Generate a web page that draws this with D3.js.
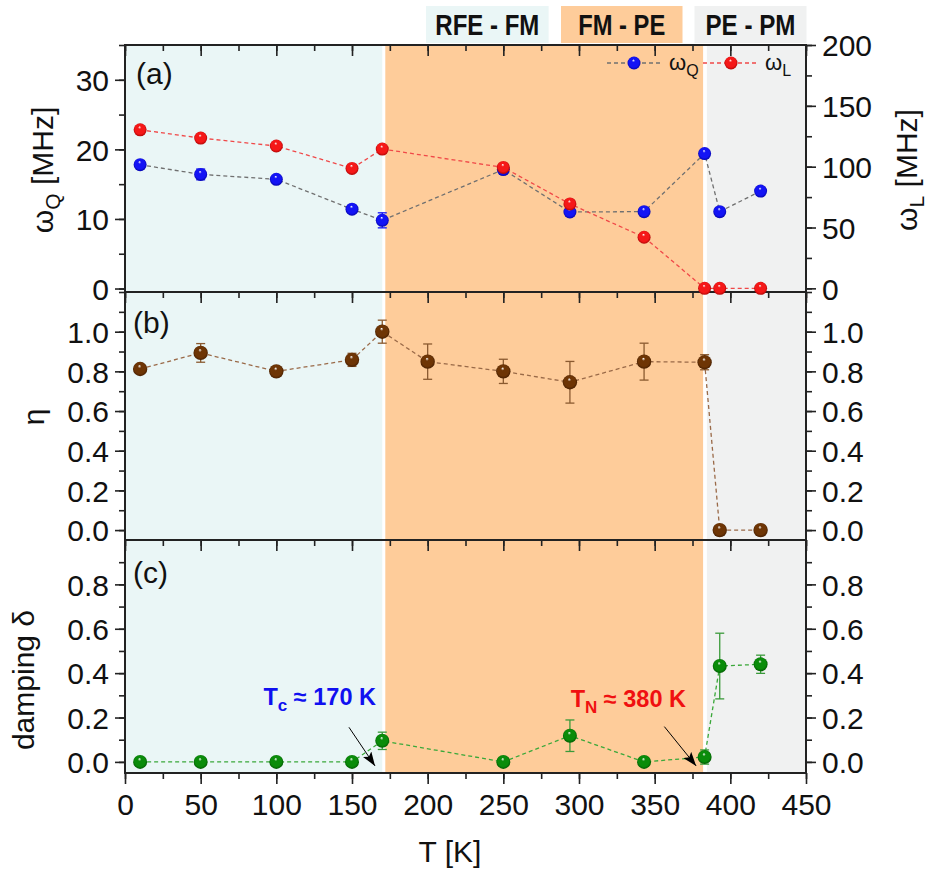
<!DOCTYPE html>
<html><head><meta charset="utf-8">
<script src="https://cdn.jsdelivr.net/npm/d3@7"></script>
<style>
body{margin:0;background:#fff}
svg{display:block}
text{font-family:"Liberation Sans",Arial,sans-serif;fill:#111}
</style></head><body>
<svg id="chart" width="932" height="871"></svg>
<script>
// ---------- data ----------
const T_a = [10, 50, 100, 150, 170, 250, 294, 343, 383, 393, 420];
const omegaQ = [17.8, 16.4, 15.7, 11.4, 9.8, 17.1, 11.0, 11.05, 19.4, 11.05, 14.0];
const omegaQErr = [0.3, 0.77, 0.3, 0.5, 1.08, 0.3, 0.55, 0.3, 0.3, 0.3, 0.3];
const omegaL = [130.3, 123.5, 117, 98.6, 114.5, 99.4, 69.4, 42, 0, 0, 0];
const T_b = [10, 50, 100, 150, 170, 200, 250, 294, 343, 383, 393, 420];
const eta = [0.812, 0.893, 0.80, 0.858, 1.0, 0.849, 0.80, 0.745, 0.849, 0.846, 0, 0];
const etaErr = [0.01, 0.047, 0.01, 0.033, 0.058, 0.089, 0.061, 0.105, 0.093, 0.038, 0, 0];
const T_c = [10, 50, 100, 150, 170, 250, 294, 343, 383, 393, 420];
const delta = [0, 0, 0, 0, 0.095, 0, 0.118, 0, 0.022, 0.432, 0.44];
const deltaErr = [0, 0, 0, 0, 0.039, 0, 0.071, 0, 0.032, 0.148, 0.041];
const phaseLabels = ["RFE - FM", "FM - PE", "PE - PM"];
const phaseBounds = [[0, 170], [172, 382], [384.5, 450]];
const xTicks = [0, 50, 100, 150, 200, 250, 300, 350, 400, 450];
const yTicksA = [0, 10, 20, 30];
const yTicksAR = [0, 50, 100, 150, 200];
const yTicksB = [0, 0.2, 0.4, 0.6, 0.8, 1.0];
const yTicksC = [0, 0.2, 0.4, 0.6, 0.8];
const annotations = [
  {main: "T", sub: "c", rest: " ≈ 170 K", color: "#1010f0", tx: 91.5, ty: 0.256, ax0: 148, ay0: 0.156, ax1: 165.2, ay1: -0.018},
  {main: "T", sub: "N", rest: " ≈ 380 K", color: "#f01010", tx: 294.5, ty: 0.249, ax0: 356.4, ay0: 0.159, ax1: 377.4, ay1: -0.018}
];

// ---------- layout ----------
const svg = d3.select("#chart");
const xL = 125, xR = 806;
const pA = {top: 45, bottom: 292}, pB = {top: 292, bottom: 540}, pC = {top: 540, bottom: 773};
const bandColors = ["#eaf6f6", "#fecc9a", "#f0f1f1"];
const x = d3.scaleLinear().domain([0, 450]).range([xL, xR]);
const yA = d3.scaleLinear().domain([-0.5, 35]).range([pA.bottom, pA.top]);
const yAR = d3.scaleLinear().domain([-3, 200]).range([pA.bottom, pA.top]);
const yB = d3.scaleLinear().domain([-0.05, 1.2]).range([pB.bottom, pB.top]);
const yC = d3.scaleLinear().domain([-0.05, 1.0]).range([pC.bottom, pC.top]);

const defs = svg.append("defs");
function sphere(id, base, dark) {
  const g = defs.append("radialGradient").attr("id", id)
    .attr("cx", "50%").attr("cy", "50%").attr("r", "55%").attr("fx", "45%").attr("fy", "28%");
  g.append("stop").attr("offset", "0%").attr("stop-color", "#ffffff");
  g.append("stop").attr("offset", "22%").attr("stop-color", base);
  g.append("stop").attr("offset", "70%").attr("stop-color", base);
  g.append("stop").attr("offset", "100%").attr("stop-color", dark);
}
sphere("gBlue", "#1414f5", "#00009a");
sphere("gRed", "#f51818", "#a00000");
sphere("gBrown", "#6e3505", "#3e1a00");
sphere("gGreen", "#0a8c0a", "#005000");
defs.append("marker").attr("id", "arrow").attr("viewBox", "0 0 14 10")
  .attr("refX", 14).attr("refY", 5).attr("markerWidth", 14).attr("markerHeight", 10)
  .attr("markerUnits", "userSpaceOnUse").attr("orient", "auto")
  .append("path").attr("d", "M0,0 L14,5 L0,10 L3,5 Z").attr("fill", "#000");

// bands
[pA, pB, pC].forEach(p => {
  phaseBounds.forEach((b, i) => {
    svg.append("rect").attr("x", x(b[0])).attr("y", p.top)
      .attr("width", x(b[1]) - x(b[0])).attr("height", p.bottom - p.top)
      .attr("fill", bandColors[i]);
  });
});

// header boxes
const hdr = [{x: 426, w: 122.6, tw: 104}, {x: 561, w: 121.5, tw: 87}, {x: 694.5, w: 112, tw: 90}];
phaseLabels.forEach((lab, i) => {
  svg.append("rect").attr("x", hdr[i].x).attr("y", 6).attr("width", hdr[i].w).attr("height", 37)
    .attr("fill", bandColors[i]);
  svg.append("text").attr("x", hdr[i].x + hdr[i].w / 2).attr("y", 35)
    .attr("text-anchor", "middle").attr("font-size", 30).attr("font-weight", "bold")
    .attr("textLength", hdr[i].tw).attr("lengthAdjust", "spacingAndGlyphs").text(lab);
});

// axes helpers
function styleAxis(g) {
  g.selectAll(".domain").remove();
  g.selectAll(".tick line").attr("stroke", "#222").attr("stroke-width", 1.6);
  g.selectAll(".tick text").attr("font-size", 30).attr("fill", "#111")
    .attr("font-family", '"Liberation Sans",Arial,sans-serif');
}
function minorVals(scale, step) {
  const d = scale.domain();
  const out = [];
  const lo = Math.ceil(Math.min(d[0], d[1]) / step - 1e-9), hi = Math.floor(Math.max(d[0], d[1]) / step + 1e-9);
  for (let k = lo; k <= hi; k++) out.push(+(k * step).toFixed(6));
  return out;
}
const xMinor = minorVals(x, 25);

function panelAxes(p, yl, ticksL, minorL, yr, ticksR, minorR, fmt, fmtR, bottom) {
  svg.append("g").attr("transform", `translate(0,${p.top})`)
    .call(d3.axisTop(x).tickValues(xMinor).tickSize(-6).tickFormat("")).call(styleAxis);
  svg.append("g").attr("transform", `translate(0,${p.top})`)
    .call(d3.axisTop(x).tickValues(xTicks).tickSize(-11).tickFormat("")).call(styleAxis);
  svg.append("g").attr("transform", `translate(${xL},0)`)
    .call(d3.axisLeft(yl).tickValues(minorL).tickSize(6).tickFormat("")).call(styleAxis);
  svg.append("g").attr("transform", `translate(${xL},0)`)
    .call(d3.axisLeft(yl).tickValues(ticksL).tickSize(10).tickPadding(6).tickFormat(fmt)).call(styleAxis)
    .selectAll(".tick text").attr("dy", "0.36em");
  svg.append("g").attr("transform", `translate(${xR},0)`)
    .call(d3.axisRight(yr).tickValues(minorR).tickSize(6).tickFormat("")).call(styleAxis);
  svg.append("g").attr("transform", `translate(${xR},0)`)
    .call(d3.axisRight(yr).tickValues(ticksR).tickSize(10).tickPadding(6).tickFormat(fmtR)).call(styleAxis)
    .selectAll(".tick text").attr("dy", "0.36em");
  if (bottom) {
    svg.append("g").attr("transform", `translate(0,${p.bottom})`)
      .call(d3.axisBottom(x).tickValues(xMinor).tickSize(6).tickFormat("")).call(styleAxis);
    svg.append("g").attr("transform", `translate(0,${p.bottom})`)
      .call(d3.axisBottom(x).tickValues(xTicks).tickSize(11).tickPadding(10).tickFormat(d3.format("d"))).call(styleAxis);
  }
  svg.append("rect").attr("x", xL).attr("y", p.top).attr("width", xR - xL).attr("height", p.bottom - p.top)
    .attr("fill", "none").attr("stroke", "#222").attr("stroke-width", 2);
}
const f1 = d3.format(".1f"), fd = d3.format("d");
panelAxes(pA, yA, yTicksA, minorVals(yA, 5), yAR, yTicksAR, minorVals(yAR, 25), fd, fd, false);
panelAxes(pB, yB, yTicksB, minorVals(yB, 0.1), yB, yTicksB, minorVals(yB, 0.1), f1, f1, false);
panelAxes(pC, yC, yTicksC, minorVals(yC, 0.1).filter(v => v < 1), yC, yTicksC, minorVals(yC, 0.1).filter(v => v < 1), f1, f1, true);

// series drawing
function series(Ts, vals, errs, y, lineColor, errColor, grad, r) {
  const pts = Ts.map((t, i) => ({t, v: vals[i], e: errs ? errs[i] : 0}));
  svg.append("path").datum(pts)
    .attr("d", d3.line().x(d => x(d.t)).y(d => y(d.v)))
    .attr("fill", "none").attr("stroke", lineColor).attr("stroke-width", 1.3).attr("stroke-dasharray", "4,3");
  const eg = svg.append("g").attr("stroke", errColor).attr("stroke-width", 1.3);
  pts.filter(d => d.e > 0).forEach(d => {
    eg.append("line").attr("x1", x(d.t)).attr("x2", x(d.t)).attr("y1", y(d.v - d.e)).attr("y2", y(d.v + d.e));
    eg.append("line").attr("x1", x(d.t) - 4.5).attr("x2", x(d.t) + 4.5).attr("y1", y(d.v - d.e)).attr("y2", y(d.v - d.e));
    eg.append("line").attr("x1", x(d.t) - 4.5).attr("x2", x(d.t) + 4.5).attr("y1", y(d.v + d.e)).attr("y2", y(d.v + d.e));
  });
  svg.append("g").selectAll("circle").data(pts).join("circle")
    .attr("cx", d => x(d.t)).attr("cy", d => y(d.v)).attr("r", r).attr("fill", `url(#${grad})`);
}
series(T_a, omegaQ, omegaQErr, yA, "#707070", "#1414f5", "gBlue", 6.5);
series(T_a, omegaL, null, yAR, "#f04848", "#f01010", "gRed", 6.5);
series(T_b, eta, etaErr, yB, "#9a6a48", "#8a5a30", "gBrown", 7.2);
series(T_c, delta, deltaErr, yC, "#3aa83a", "#3a9a3a", "gGreen", 7);

// legend in (a)
function legendItem(x0, x1, cx, tx, lineColor, grad, sub) {
  svg.append("line").attr("x1", x0).attr("x2", x1).attr("y1", 63).attr("y2", 63)
    .attr("stroke", lineColor).attr("stroke-width", 1.3).attr("stroke-dasharray", "4,3");
  svg.append("circle").attr("cx", cx).attr("cy", 63).attr("r", 6.5).attr("fill", `url(#${grad})`);
  const t = svg.append("text").attr("x", tx).attr("y", 70).attr("font-size", 22);
  t.append("tspan").text("ω");
  t.append("tspan").attr("font-size", 16).attr("dy", 6).text(sub);
}
legendItem(607, 662, 634, 669, "#707070", "gBlue", "Q");
legendItem(703, 758, 731, 765, "#f04848", "gRed", "L");

// panel labels
[["(a)", 136, 84], ["(b)", 133, 333], ["(c)", 133, 583]].forEach(d => {
  svg.append("text").attr("x", d[1]).attr("y", d[2]).attr("font-size", 30).text(d[0]);
});

// axis titles
function vtitle(cx, cy, parts) {
  const t = svg.append("text").attr("transform", `translate(${cx},${cy}) rotate(-90)`)
    .attr("text-anchor", "middle").attr("font-size", 30);
  parts.forEach(p => {
    const s = t.append("tspan").text(p.t);
    if (p.sub) s.attr("font-size", 21).attr("dy", 7);
    if (p.up) s.attr("dy", -7);
  });
}
vtitle(53, 170, [{t: "ω"}, {t: "Q", sub: true}, {t: " [MHz]", up: true}]);
vtitle(917, 170, [{t: "ω"}, {t: "L", sub: true}, {t: " [MHz]", up: true}]);
vtitle(44, 417, [{t: "η"}]);
vtitle(34, 680, [{t: "damping δ"}]);
svg.append("text").attr("x", 450).attr("y", 862).attr("text-anchor", "middle").attr("font-size", 30).text("T [K]");

// annotations
annotations.forEach(a => {
  const t = svg.append("text").attr("x", x(a.tx)).attr("y", yC(a.ty)).attr("text-anchor", "start")
    .attr("font-size", 23.5).attr("font-weight", "bold").style("fill", a.color);
  t.append("tspan").text(a.main);
  t.append("tspan").attr("font-size", 17).attr("dy", 6).text(a.sub);
  t.append("tspan").attr("dy", -6).text(a.rest);
  svg.append("line").attr("x1", x(a.ax0)).attr("y1", yC(a.ay0)).attr("x2", x(a.ax1)).attr("y2", yC(a.ay1))
    .attr("stroke", "#000").attr("stroke-width", 1).attr("marker-end", "url(#arrow)");
});
</script></body></html>
